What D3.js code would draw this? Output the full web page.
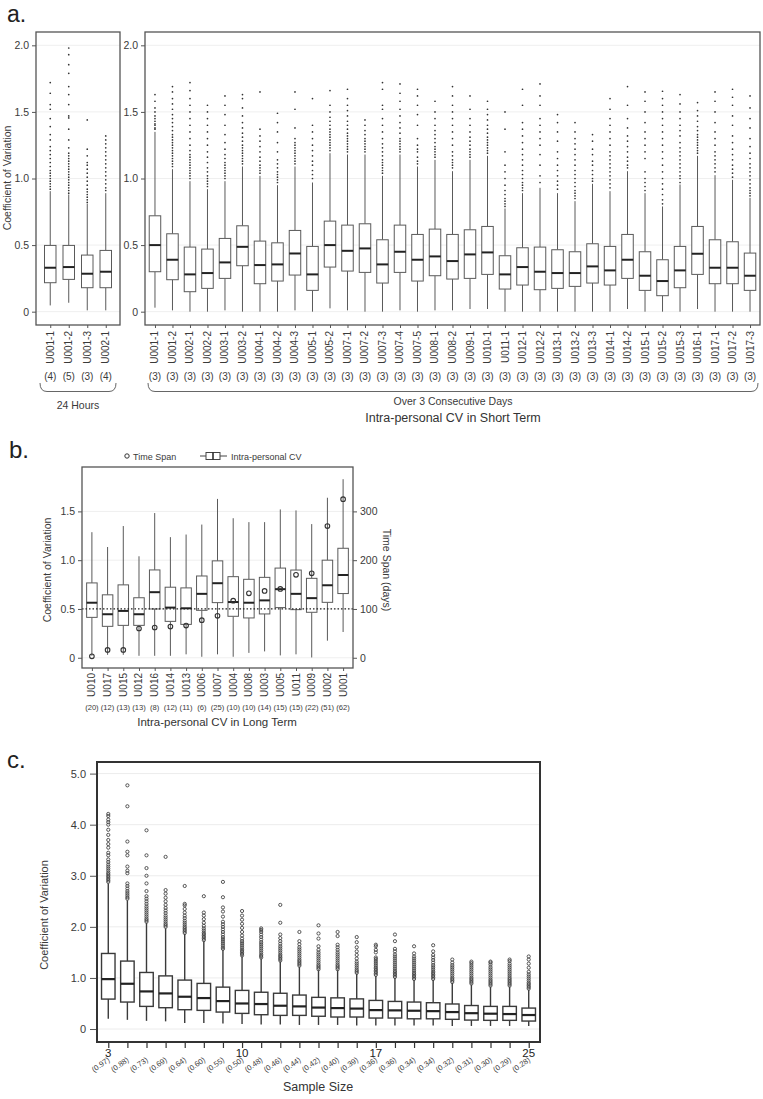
<!DOCTYPE html>
<html><head><meta charset="utf-8">
<script src="https://cdn.jsdelivr.net/npm/d3@7"></script>
<style>body{margin:0;background:#fff}svg{display:block;font-family:"Liberation Sans",Arial,sans-serif}</style>
</head><body><svg id="chart" width="763" height="1099"></svg>
<script>
// ---------- Panel a : 24 hours ----------
const aDayCats = ["U001-1","U001-2","U001-3","U002-1"];
const aDayCounts = ["(4)","(5)","(3)","(4)"];
const aDayQ1 = [0.2175,0.2425,0.18,0.18];
const aDayMed = [0.33,0.335,0.285,0.30];
const aDayQ3 = [0.4975,0.4975,0.425,0.46];
const aDayLo = [0.047,0.067,0.01,0.01];
const aDayHi = [0.905,0.88,0.81,0.89];
const aDayOut = [
 "0.92 0.94 0.96 0.98 1.00 1.02 1.04 1.06 1.09 1.12 1.15 1.18 1.21 1.24 1.29 1.33 1.39 1.45 1.52 1.555 1.64 1.72",
 "0.89 0.91 0.93 0.95 0.97 0.99 1.01 1.03 1.05 1.07 1.09 1.11 1.13 1.15 1.17 1.19 1.23 1.29 1.37 1.455 1.47 1.555 1.63 1.69 1.79 1.855 1.93 1.98",
 "0.82 0.84 0.86 0.88 0.90 0.92 0.95 0.98 1.01 1.04 1.07 1.10 1.12 1.17 1.22 1.44",
 "0.91 0.93 0.96 0.99 1.02 1.05 1.08 1.11 1.14 1.17 1.20 1.23 1.26 1.29 1.32"
];
// ---------- Panel a : over 3 consecutive days ----------
const aShortCats = ["U001-1","U001-2","U002-1","U002-2","U003-1","U003-2","U004-1","U004-2","U004-3","U005-1","U005-2","U007-1","U007-2","U007-3","U007-4","U007-5","U008-1","U008-2","U009-1","U010-1","U011-1","U012-1","U012-2","U013-1","U013-2","U013-3","U014-1","U014-2","U015-1","U015-2","U015-3","U016-1","U017-1","U017-2","U017-3"];
const aShortCounts = aShortCats.map(() => "(3)");
const aShortQ1 = [0.30,0.24,0.15,0.175,0.25,0.345,0.21,0.23,0.275,0.16,0.335,0.305,0.295,0.215,0.295,0.23,0.27,0.245,0.25,0.28,0.17,0.20,0.165,0.175,0.19,0.215,0.20,0.25,0.16,0.12,0.18,0.28,0.21,0.21,0.16];
const aShortMed = [0.50,0.39,0.28,0.29,0.37,0.487,0.35,0.355,0.437,0.28,0.50,0.457,0.475,0.355,0.45,0.39,0.415,0.38,0.43,0.445,0.28,0.335,0.30,0.29,0.29,0.34,0.31,0.39,0.27,0.23,0.31,0.435,0.33,0.33,0.27];
const aShortQ3 = [0.72,0.585,0.485,0.47,0.55,0.645,0.53,0.517,0.61,0.49,0.68,0.65,0.66,0.54,0.65,0.58,0.62,0.58,0.615,0.64,0.42,0.48,0.485,0.465,0.45,0.51,0.49,0.58,0.45,0.39,0.49,0.64,0.54,0.525,0.44];
const aShortLo = [0.03,0.01,0,0,0.01,0,0,0,0.01,0,0.025,0.01,0,0,0.01,0,0.01,0.01,0.02,0.02,0,0,0,0,0,0,0,0.02,0,0,0,0.02,0,0,0];
const aShortHi = [1.35,1.07,0.98,0.92,0.98,1.09,1.02,0.95,1.09,0.97,1.19,1.18,1.18,1.02,1.18,1.09,1.14,1.055,1.14,1.17,0.775,0.89,0.93,0.89,0.83,0.96,0.905,1.055,0.89,0.79,0.955,1.17,1.025,0.99,0.855];
const aShortOut = [
 "1.37 1.38 1.40 1.41 1.43 1.45 1.47 1.50 1.53 1.58 1.63",
 "1.09 1.11 1.13 1.15 1.17 1.19 1.21 1.23 1.25 1.27 1.29 1.31 1.33 1.36 1.39 1.42 1.45 1.48 1.52 1.56 1.60 1.65 1.69",
 "1.00 1.02 1.04 1.06 1.08 1.10 1.12 1.14 1.16 1.18 1.21 1.25 1.30 1.35 1.40 1.45 1.50 1.55 1.60 1.66 1.72",
 "0.94 0.96 0.98 1.00 1.02 1.05 1.08 1.12 1.16 1.20 1.25 1.30 1.35 1.40 1.45 1.50 1.55",
 "1.00 1.02 1.04 1.06 1.08 1.10 1.12 1.15 1.18 1.22 1.27 1.33 1.40 1.48 1.55 1.62",
 "1.11 1.13 1.15 1.17 1.19 1.21 1.23 1.25 1.28 1.31 1.34 1.38 1.42 1.47 1.53 1.60 1.63",
 "1.04 1.06 1.08 1.10 1.13 1.16 1.20 1.24 1.28 1.32 1.37 1.65",
 "0.97 0.99 1.01 1.03 1.05 1.08 1.11 1.14 1.20 1.27 1.35 1.42 1.49",
 "1.11 1.13 1.15 1.17 1.19 1.21 1.23 1.25 1.27 1.30 1.38 1.52 1.65",
 "1.00 1.03 1.06 1.10 1.13 1.17 1.21 1.25 1.30 1.35 1.40 1.60",
 "1.21 1.23 1.25 1.27 1.29 1.31 1.33 1.35 1.37 1.40 1.43 1.46 1.50 1.55 1.66",
 "1.20 1.22 1.24 1.26 1.28 1.30 1.32 1.34 1.37 1.40 1.43 1.47 1.51 1.55 1.60 1.67",
 "1.20 1.22 1.24 1.26 1.28 1.30 1.33 1.36 1.40 1.44",
 "1.04 1.06 1.08 1.10 1.12 1.14 1.17 1.20 1.23 1.26 1.30 1.35 1.40 1.45 1.52 1.55 1.67 1.72",
 "1.20 1.22 1.24 1.26 1.28 1.30 1.34 1.38 1.42 1.47 1.52 1.58 1.64 1.71",
 "1.11 1.13 1.16 1.20 1.22 1.25 1.30 1.40 1.48 1.55 1.62 1.67",
 "1.16 1.18 1.20 1.22 1.24 1.27 1.30 1.33 1.36 1.40 1.45 1.50 1.58",
 "1.08 1.10 1.12 1.14 1.17 1.20 1.25 1.30 1.35 1.40 1.45 1.50 1.55 1.62 1.69",
 "1.16 1.18 1.20 1.22 1.25 1.28 1.31 1.35 1.40 1.45 1.52 1.62",
 "1.19 1.21 1.23 1.25 1.27 1.29 1.31 1.34 1.37 1.40 1.44 1.48 1.52 1.58",
 "0.79 0.81 0.83 0.85 0.88 0.91 0.95 1.00 1.05 1.10 1.20 1.37 1.50",
 "0.91 0.93 0.95 0.97 1.00 1.03 1.06 1.10 1.14 1.18 1.22 1.27 1.32 1.37 1.42 1.55 1.67",
 "0.97 1.02 1.10 1.18 1.25 1.30 1.35 1.40 1.45 1.55 1.62 1.71",
 "0.92 0.95 0.98 1.02 1.06 1.10 1.15 1.20 1.28 1.35 1.42 1.48",
 "0.85 0.87 0.89 0.91 0.94 0.97 1.00 1.03 1.06 1.10 1.14 1.18 1.22 1.26 1.30 1.35 1.42",
 "0.98 1.00 1.03 1.06 1.10 1.13 1.18 1.22 1.28 1.33",
 "0.93 0.96 0.99 1.02 1.05 1.08 1.11 1.14 1.17 1.20 1.25 1.30 1.35 1.40 1.45 1.52 1.60",
 "1.08 1.10 1.13 1.16 1.20 1.24 1.28 1.32 1.38 1.45 1.55 1.69",
 "0.91 0.94 0.97 1.00 1.05 1.15 1.20 1.25 1.30 1.35 1.42 1.50 1.58 1.65",
 "0.81 0.84 0.88 0.92 0.96 1.00 1.05 1.10 1.15 1.20 1.25 1.30 1.35 1.40 1.45 1.50 1.55 1.60 1.655",
 "0.97 1.00 1.02 1.05 1.08 1.11 1.14 1.17 1.20 1.23 1.27 1.32 1.36 1.40 1.45 1.50 1.56 1.63",
 "1.19 1.21 1.23 1.25 1.27 1.29 1.31 1.33 1.36 1.39 1.43 1.47 1.51 1.57",
 "1.05 1.08 1.11 1.14 1.17 1.20 1.25 1.30 1.35 1.42 1.50 1.58 1.65",
 "1.01 1.04 1.07 1.10 1.14 1.18 1.22 1.27 1.32 1.40 1.47 1.55 1.61 1.67",
 "0.87 0.89 0.91 0.93 0.96 0.99 1.02 1.05 1.08 1.11 1.15 1.19 1.24 1.30 1.38 1.45 1.53 1.62"
];
const aTicks = [0, 0.5, 1.0, 1.5, 2.0];

// ---------- Panel b : long term ----------
const bCats = ["U010","U017","U015","U012","U016","U014","U013","U006","U007","U004","U008","U003","U005","U011","U009","U002","U001"];
const bCounts = ["(20)","(12)","(13)","(13)","(8)","(12)","(11)","(6)","(25)","(10)","(10)","(14)","(15)","(15)","(22)","(51)","(62)"];
const bQ1 = [0.414,0.322,0.332,0.332,0.50,0.373,0.342,0.486,0.565,0.425,0.408,0.449,0.514,0.493,0.466,0.568,0.658];
const bMed = [0.564,0.446,0.48,0.446,0.672,0.514,0.507,0.655,0.764,0.571,0.564,0.588,0.703,0.655,0.611,0.743,0.848];
const bQ3 = [0.767,0.645,0.747,0.615,0.90,0.723,0.716,0.838,0.993,0.831,0.804,0.824,0.919,0.899,0.814,1.0,1.122];
const bLo = [0.02,0.03,0.03,0.02,0.02,0.02,0.035,0.01,0.035,0.01,0.05,0.065,0.024,0.035,0.003,0.175,0.264];
const bHi = [1.287,1.135,1.35,1.04,1.483,1.236,1.263,1.365,1.628,1.43,1.39,1.39,1.52,1.51,1.37,1.64,1.83];
const bSpanDays = [3,16,16,60,62,64,66,77,86,117,132,137,141,170,173,270,325];
const bTicksLeft = [0, 0.5, 1.0, 1.5];
const bTicksRight = [0, 100, 200, 300];

// ---------- Panel c : sample size ----------
const cSizes = [3,4,5,6,7,8,9,10,11,12,13,14,15,16,17,18,19,20,21,22,23,24,25];
const cMedLabels = ["(0.97)","(0.88)","(0.73)","(0.69)","(0.64)","(0.60)","(0.55)","(0.50)","(0.48)","(0.46)","(0.44)","(0.42)","(0.40)","(0.39)","(0.36)","(0.36)","(0.34)","(0.34)","(0.32)","(0.31)","(0.30)","(0.29)","(0.28)"];
const cShownSizes = [3,10,17,25];
const cQ1 = [0.586,0.528,0.443,0.417,0.378,0.365,0.332,0.306,0.28,0.267,0.267,0.25,0.235,0.235,0.215,0.215,0.20,0.20,0.19,0.175,0.17,0.17,0.156];
const cMed = [0.977,0.886,0.736,0.697,0.632,0.606,0.547,0.50,0.489,0.456,0.443,0.42,0.41,0.40,0.37,0.365,0.358,0.35,0.332,0.31,0.30,0.293,0.274];
const cQ3 = [1.479,1.33,1.107,1.04,0.958,0.893,0.82,0.756,0.72,0.70,0.665,0.62,0.61,0.59,0.56,0.54,0.528,0.515,0.49,0.46,0.443,0.443,0.41];
const cLo = [0.20,0.18,0.16,0.15,0.12,0.12,0.11,0.10,0.09,0.09,0.08,0.08,0.08,0.07,0.07,0.07,0.07,0.07,0.06,0.06,0.06,0.06,0.06];
const cHi = [2.85,2.52,2.08,1.97,1.86,1.72,1.55,1.42,1.38,1.32,1.22,1.15,1.15,1.08,1.04,1.0,0.96,0.96,0.9,0.87,0.83,0.83,0.77];
const cOut = [
 "2.88 2.91 2.94 2.97 3.00 3.03 3.06 3.10 3.14 3.18 3.22 3.27 3.32 3.40 3.45 3.55 3.62 3.70 3.80 3.90 4.00 4.05 4.10 4.17 4.21",
 "2.55 2.58 2.62 2.66 2.70 2.75 2.80 2.85 3.05 3.10 3.18 3.40 3.47 3.67 4.36 4.77",
 "2.10 2.13 2.16 2.20 2.24 2.28 2.32 2.36 2.40 2.45 2.50 2.55 2.60 2.70 2.85 3.00 3.15 3.40 3.89",
 "2.00 2.03 2.06 2.10 2.14 2.18 2.22 2.27 2.32 2.37 2.43 2.50 2.57 2.65 2.72 3.37",
 "1.88 1.91 1.94 1.97 2.00 2.04 2.08 2.12 2.17 2.22 2.28 2.35 2.42 2.45 2.80",
 "1.74 1.77 1.80 1.83 1.86 1.89 1.93 1.97 2.02 2.08 2.15 2.22 2.28 2.60",
 "1.57 1.60 1.64 1.68 1.72 1.76 1.80 1.85 1.90 1.95 2.00 2.05 2.10 2.20 2.30 2.38 2.58 2.88",
 "1.44 1.47 1.50 1.53 1.56 1.60 1.64 1.68 1.72 1.77 1.83 1.90 1.98 2.06 2.14 2.22 2.31",
 "1.40 1.43 1.46 1.50 1.54 1.58 1.62 1.66 1.70 1.75 1.80 1.85 1.90 1.94 1.97",
 "1.34 1.37 1.40 1.43 1.46 1.50 1.54 1.58 1.62 1.67 1.72 1.78 1.85 2.08 2.43",
 "1.24 1.27 1.30 1.33 1.36 1.40 1.44 1.48 1.52 1.56 1.60 1.66 1.72 1.90",
 "1.17 1.20 1.23 1.26 1.30 1.34 1.38 1.42 1.46 1.50 1.55 1.62 1.77 1.87 2.03",
 "1.17 1.20 1.23 1.26 1.30 1.34 1.38 1.42 1.46 1.50 1.55 1.60 1.65 1.82 1.90",
 "1.10 1.13 1.16 1.20 1.24 1.28 1.32 1.38 1.45 1.52 1.60 1.70 1.80",
 "1.06 1.09 1.12 1.15 1.18 1.21 1.25 1.29 1.33 1.37 1.40 1.50 1.55 1.62 1.65",
 "1.02 1.05 1.08 1.11 1.14 1.18 1.22 1.26 1.30 1.34 1.38 1.42 1.46 1.52 1.57 1.72 1.85",
 "0.98 1.01 1.04 1.07 1.10 1.14 1.18 1.22 1.26 1.30 1.34 1.38 1.42 1.48 1.62",
 "0.98 1.01 1.04 1.07 1.10 1.13 1.17 1.21 1.25 1.30 1.35 1.40 1.45 1.52 1.64",
 "0.92 0.95 0.98 1.01 1.05 1.09 1.13 1.17 1.21 1.25 1.30 1.36",
 "0.89 0.92 0.95 0.98 1.01 1.05 1.09 1.13 1.17 1.21 1.25 1.29 1.32",
 "0.85 0.88 0.91 0.94 0.97 1.01 1.05 1.09 1.13 1.17 1.21 1.26 1.30 1.32",
 "0.85 0.88 0.91 0.94 0.97 1.00 1.04 1.08 1.12 1.16 1.20 1.24 1.28 1.33 1.36",
 "0.79 0.82 0.85 0.88 0.91 0.95 0.99 1.03 1.07 1.12 1.20 1.28 1.36 1.42"
];
const cTicks = [0,1,2,3,4,5];

// ---------- helpers ----------
const svg = d3.select("#chart");
const TXT = "#3a3a3a";
const parse = s => s.split(" ").map(Number);

function makeRows(cats, q1, med, q3, lo, hi, out) {
  return cats.map((c, i) => ({cat: c, q1: q1[i], med: med[i], q3: q3[i], lo: lo[i], hi: hi[i], out: out ? parse(out[i]) : []}));
}

function drawBoxes(g, x, y, rows, o) {
  const b = g.selectAll("g.bx").data(rows).join("g").attr("class", "bx");
  b.append("line").attr("x1", d => x(d.cat)).attr("x2", d => x(d.cat))
    .attr("y1", d => y(d.hi)).attr("y2", d => y(d.q3)).attr("stroke", o.stroke).attr("stroke-width", o.sw);
  b.append("line").attr("x1", d => x(d.cat)).attr("x2", d => x(d.cat))
    .attr("y1", d => y(d.q1)).attr("y2", d => y(d.lo)).attr("stroke", o.stroke).attr("stroke-width", o.sw);
  b.append("rect").attr("x", d => x(d.cat) - o.bw / 2).attr("width", o.bw)
    .attr("y", d => y(d.q3)).attr("height", d => y(d.q1) - y(d.q3))
    .attr("fill", "#fff").attr("stroke", o.stroke).attr("stroke-width", o.sw);
  b.append("line").attr("x1", d => x(d.cat) - o.bw / 2).attr("x2", d => x(d.cat) + o.bw / 2)
    .attr("y1", d => y(d.med)).attr("y2", d => y(d.med)).attr("stroke", o.medStroke).attr("stroke-width", o.msw);
  b.selectAll("circle.out").data(d => d.out.map(v => ({cat: d.cat, v}))).join("circle").attr("class", "out")
    .attr("cx", d => x(d.cat)).attr("cy", d => y(d.v)).attr("r", o.or)
    .attr("fill", o.ofill).attr("stroke", o.ostroke).attr("stroke-width", o.osw);
}

function grid(g, y, ticks, x0, x1, col) {
  g.selectAll("line.grid").data(ticks).join("line").attr("class", "grid")
    .attr("x1", x0).attr("x2", x1).attr("y1", d => y(d)).attr("y2", d => y(d))
    .attr("stroke", col).attr("stroke-width", 1);
}

function styleAxis(ax, fs, col) {
  ax.select(".domain").remove();
  ax.selectAll(".tick line").attr("stroke", "#555");
  ax.selectAll(".tick text").attr("fill", col || TXT).style("font-size", fs + "px");
}

const fmt1 = d => d === 0 ? "0" : d3.format(".1f")(d);

// ================= PANEL a =================
svg.append("text").attr("x", 7).attr("y", 22).text("a.").style("font-size", "23px").attr("fill", "#222");

const yA = d3.scaleLinear().domain([-0.1, 2.1]).range([325, 32]);
const pA = [
  {x0: 36, x1: 120, cats: aDayCats, counts: aDayCounts, rows: makeRows(aDayCats, aDayQ1, aDayMed, aDayQ3, aDayLo, aDayHi, aDayOut), pad: 0.77},
  {x0: 145, x1: 760, cats: aShortCats, counts: aShortCounts, rows: makeRows(aShortCats, aShortQ1, aShortMed, aShortQ3, aShortLo, aShortHi, aShortOut), pad: 0.57}
];
pA.forEach(p => {
  const x = d3.scalePoint().domain(p.cats).range([p.x0, p.x1]).padding(p.pad);
  const g = svg.append("g");
  grid(g, yA, aTicks, p.x0, p.x1, "#efefef");
  drawBoxes(g, x, yA, p.rows, {bw: 11.5, stroke: "#5a5a5a", sw: 1, medStroke: "#222", msw: 2, or: 0.85, ofill: "#333", ostroke: "none", osw: 0});
  g.append("rect").attr("x", p.x0).attr("y", 32).attr("width", p.x1 - p.x0).attr("height", 293)
    .attr("fill", "none").attr("stroke", "#555").attr("stroke-width", 1.3);
  const ax = svg.append("g").attr("transform", `translate(${p.x0},0)`)
    .call(d3.axisLeft(yA).tickValues(aTicks).tickFormat(fmt1).tickSize(4).tickPadding(3));
  styleAxis(ax, 10.5);
  const xa = svg.append("g").attr("transform", "translate(0,325)")
    .call(d3.axisBottom(x).tickSize(3).tickFormat(""));
  xa.select(".domain").remove();
  xa.selectAll(".tick line").attr("stroke", "#555");
  svg.append("g").selectAll("text").data(p.cats).join("text")
    .attr("transform", d => `translate(${x(d) + 3.5},331) rotate(-90)`)
    .attr("text-anchor", "end").attr("fill", TXT).style("font-size", "10px").text(d => d);
  svg.append("g").selectAll("text").data(p.cats).join("text")
    .attr("x", d => x(d)).attr("y", 380).attr("text-anchor", "middle").attr("fill", TXT)
    .style("font-size", "10px").text((d, i) => p.counts[i]);
});
function brace(x0, x1) {
  svg.append("path").attr("d", `M${x0},383 Q${x0},391.5 ${x0 + 7},391.5 L${x1 - 7},391.5 Q${x1},391.5 ${x1},383`)
    .attr("fill", "none").attr("stroke", "#666").attr("stroke-width", 1);
}
brace(40, 116);
brace(148, 758);
svg.append("text").attr("x", 78).attr("y", 409).attr("text-anchor", "middle").attr("fill", TXT).style("font-size", "10.5px").text("24 Hours");
svg.append("text").attr("x", 453).attr("y", 405).attr("text-anchor", "middle").attr("fill", TXT).style("font-size", "10.5px").text("Over 3 Consecutive Days");
svg.append("text").attr("x", 453).attr("y", 422).attr("text-anchor", "middle").attr("fill", "#333").style("font-size", "12.5px").text("Intra-personal CV in Short Term");
svg.append("text").attr("transform", "translate(11,178) rotate(-90)").attr("text-anchor", "middle")
  .attr("fill", TXT).style("font-size", "10.5px").text("Coefficient of Variation");

// ================= PANEL b =================
svg.append("text").attr("x", 9).attr("y", 458).text("b.").style("font-size", "24px").attr("fill", "#222");
const yB = d3.scaleLinear().domain([-0.105, 1.955]).range([668, 467]);
const ySpan = d3.scaleLinear().domain([-21, 391]).range([668, 467]);
const xB = d3.scalePoint().domain(bCats).range([82, 353]).padding(0.63);
const gB = svg.append("g");
grid(gB, yB, bTicksLeft, 82, 353, "#efefef");
drawBoxes(gB, xB, yB, makeRows(bCats, bQ1, bMed, bQ3, bLo, bHi, null),
  {bw: 10.5, stroke: "#5a5a5a", sw: 1, medStroke: "#222", msw: 2, or: 0, ofill: "none", ostroke: "none", osw: 0});
gB.append("line").attr("x1", 82).attr("x2", 353).attr("y1", yB(0.5)).attr("y2", yB(0.5))
  .attr("stroke", "#222").attr("stroke-width", 1.3).attr("stroke-dasharray", "1.5,2");
gB.selectAll("circle.span").data(bCats).join("circle").attr("class", "span")
  .attr("cx", d => xB(d)).attr("cy", (d, i) => ySpan(bSpanDays[i])).attr("r", 2.3)
  .attr("fill", "none").attr("stroke", "#333").attr("stroke-width", 1.1);
gB.append("rect").attr("x", 82).attr("y", 467).attr("width", 271).attr("height", 201)
  .attr("fill", "none").attr("stroke", "#555").attr("stroke-width", 1.3);
const axBL = svg.append("g").attr("transform", "translate(82,0)")
  .call(d3.axisLeft(yB).tickValues(bTicksLeft).tickFormat(fmt1).tickSize(4).tickPadding(3));
styleAxis(axBL, 10.5);
const axBR = svg.append("g").attr("transform", "translate(353,0)")
  .call(d3.axisRight(ySpan).tickValues(bTicksRight).tickSize(4).tickPadding(3));
styleAxis(axBR, 10.5);
const xbAx = svg.append("g").attr("transform", "translate(0,668)").call(d3.axisBottom(xB).tickSize(3).tickFormat(""));
xbAx.select(".domain").remove();
xbAx.selectAll(".tick line").attr("stroke", "#555");
svg.append("g").selectAll("text").data(bCats).join("text")
  .attr("transform", d => `translate(${xB(d) + 3.5},673) rotate(-90)`)
  .attr("text-anchor", "end").attr("fill", TXT).style("font-size", "10px").text(d => d);
svg.append("g").selectAll("text").data(bCats).join("text")
  .attr("x", d => xB(d)).attr("y", 710).attr("text-anchor", "middle").attr("fill", TXT)
  .style("font-size", "7.6px").text((d, i) => bCounts[i]);
svg.append("text").attr("x", 217).attr("y", 726).attr("text-anchor", "middle").attr("fill", "#333").style("font-size", "11.5px").text("Intra-personal CV in Long Term");
svg.append("text").attr("transform", "translate(51,570) rotate(-90)").attr("text-anchor", "middle")
  .attr("fill", TXT).style("font-size", "10.5px").text("Coefficient of Variation");
svg.append("text").attr("transform", "translate(383,570) rotate(90)").attr("text-anchor", "middle")
  .attr("fill", TXT).style("font-size", "10.5px").text("Time Span (days)");
// legend
const lg = svg.append("g");
lg.append("circle").attr("cx", 127).attr("cy", 456).attr("r", 2.2).attr("fill", "none").attr("stroke", "#333").attr("stroke-width", 1);
lg.append("text").attr("x", 133).attr("y", 459.5).attr("fill", TXT).style("font-size", "9px").text("Time Span");
lg.append("line").attr("x1", 200).attr("x2", 227).attr("y1", 456).attr("y2", 456).attr("stroke", "#444");
lg.append("rect").attr("x", 206).attr("y", 452.5).attr("width", 14).attr("height", 7).attr("fill", "#fff").attr("stroke", "#444");
lg.append("line").attr("x1", 213).attr("x2", 213).attr("y1", 452.5).attr("y2", 459.5).attr("stroke", "#222").attr("stroke-width", 1.5);
lg.append("text").attr("x", 231).attr("y", 459.5).attr("fill", TXT).style("font-size", "9px").text("Intra-personal CV");

// ================= PANEL c =================
svg.append("text").attr("x", 7).attr("y", 768).text("c.").style("font-size", "24px").attr("fill", "#222");
const yC = d3.scaleLinear().domain([-0.254, 5.227]).range([1042, 762]);
const xC = d3.scalePoint().domain(cSizes).range([97, 540]).padding(0.59);
const gC = svg.append("g");
grid(gC, yC, cTicks, 97, 540, "#ececec");
drawBoxes(gC, xC, yC, makeRows(cSizes, cQ1, cMed, cQ3, cLo, cHi, cOut),
  {bw: 13.5, stroke: "#3a3a3a", sw: 1.4, medStroke: "#222", msw: 2.2, or: 1.6, ofill: "none", ostroke: "#444", osw: 0.9});
gC.append("rect").attr("x", 97).attr("y", 762).attr("width", 443).attr("height", 280)
  .attr("fill", "none").attr("stroke", "#333").attr("stroke-width", 2);
const axC = svg.append("g").attr("transform", "translate(96,0)")
  .call(d3.axisLeft(yC).tickValues(cTicks).tickFormat(fmt1).tickSize(6).tickPadding(4));
styleAxis(axC, 11);
const xcAx = svg.append("g").attr("transform", "translate(0,1043)").call(d3.axisBottom(xC).tickSize(5).tickFormat(""));
xcAx.select(".domain").remove();
xcAx.selectAll(".tick line").attr("stroke", "#333").attr("stroke-width", 1.2);
svg.append("g").selectAll("text").data(cShownSizes).join("text")
  .attr("x", d => xC(d)).attr("y", 1057).attr("text-anchor", "middle").attr("fill", "#222")
  .style("font-size", "11.5px").text(d => d);
svg.append("g").selectAll("text").data(cSizes).join("text")
  .attr("transform", d => `translate(${xC(d) + 2},1061) rotate(-35)`)
  .attr("text-anchor", "end").attr("fill", TXT).style("font-size", "7.6px").text((d, i) => cMedLabels[i]);
svg.append("text").attr("x", 318).attr("y", 1091).attr("text-anchor", "middle").attr("fill", "#333").style("font-size", "12.5px").text("Sample Size");
svg.append("text").attr("transform", "translate(48,915) rotate(-90)").attr("text-anchor", "middle")
  .attr("fill", TXT).style("font-size", "11px").text("Coefficient of Variation");
</script></body></html>
